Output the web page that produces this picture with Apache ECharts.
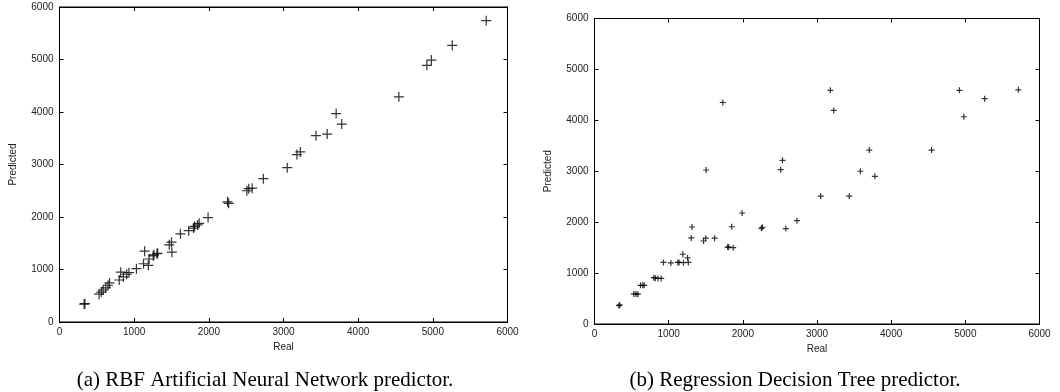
<!DOCTYPE html>
<html>
<head>
<meta charset="utf-8">
<script src="https://cdn.jsdelivr.net/npm/echarts@6/dist/echarts.min.js"></script>
<style>
  html, body { margin: 0; padding: 0; background: #fff; }
  #chart { width: 1060px; height: 392px; }
</style>
</head>
<body>
<div id="chart"></div>
<script>
// real values (shared by both plots)
const real = [330, 340, 530, 560, 585, 620, 650, 670, 800, 820, 855, 900, 930, 1030, 1125, 1140, 1190, 1200, 1255, 1265,
  1305, 1315, 1470, 1500, 1505, 1620, 1730, 1795, 1810, 1850, 1870, 1990, 2250, 2265, 2510, 2535, 2580, 2730, 3050, 3180,
  3225, 3435, 3585, 3705, 3780, 4545, 4920, 4980, 5260, 5715];
// (a) RBF neural network predictions
const predRbf = [340, 350, 530, 570, 610, 650, 700, 745, 800, 950, 860, 910, 940, 1015, 1110, 1350, 1080, 1200, 1260, 1280,
  1300, 1310, 1470, 1520, 1330, 1680, 1740, 1790, 1820, 1850, 1880, 1990, 2290, 2260, 2500, 2540, 2550, 2730, 2940, 3190,
  3240, 3550, 3580, 3970, 3770, 4290, 4890, 4990, 5270, 5740];
// (b) regression tree predictions
const predTree = [360, 375, 590, 590, 585, 760, 760, 760, 910, 900, 895, 895, 1210, 1200, 1210, 1210, 1370, 1205, 1300, 1210,
  1690, 1905, 1630, 1685, 3025, 1685, 4350, 1510, 1510, 1910, 1500, 2180, 1880, 1900, 3030, 3215, 1875, 2030, 2510, 4590,
  4195, 2510, 3000, 3415, 2900, 3415, 4590, 4070, 4425, 4600];

const ticks = [0, 1000, 2000, 3000, 4000, 5000, 6000];
const captions = ['(a) RBF Artificial Neural Network predictor.', '(b) Regression Decision Tree predictor.'];

const chart = echarts.init(document.getElementById('chart'));

const sans = 'Liberation Sans, Arial, sans-serif';
const grids = [
  { left: 59.5, top: 7, width: 448, height: 315 },
  { left: 594.5, top: 18.5, width: 445, height: 305.5 },
];

function axis(dim, gridIndex, mirror) {
  const a = {
    type: 'value',
    gridIndex: gridIndex,
    min: ticks[0],
    max: ticks[ticks.length - 1],
    interval: 1000,
    splitLine: { show: false },
    axisLine: { show: true, onZero: false, lineStyle: { color: '#000', width: 1 } },
    axisTick: { show: true, inside: true, length: 4, lineStyle: { color: '#000', width: 1 } },
    axisLabel: {
      show: !mirror,
      color: '#222',
      fontSize: 10,
      fontFamily: sans,
      margin: dim === 'x' ? 5 : 6,
      formatter: v => String(v),
    },
  };
  if (dim === 'x') {
    a.position = mirror ? 'top' : 'bottom';
    if (!mirror) {
      a.name = 'Real';
      a.nameLocation = 'middle';
      a.nameGap = 20;
      a.nameTextStyle = { color: '#222', fontSize: 10, fontFamily: sans };
    }
  } else {
    a.position = mirror ? 'right' : 'left';
    if (!mirror) {
      a.name = 'Predicted';
      a.nameLocation = 'middle';
      a.nameGap = 41;
      a.nameTextStyle = { color: '#222', fontSize: 10, fontFamily: sans };
    }
  }
  return a;
}

const crossThin = 'path://M0,4.4H10V5.6H0Z M4.4,0H5.6V10H4.4Z';
const crossBold = 'path://M0,4H10V6H0Z M4,0H6V10H4Z';

chart.setOption({
  animation: false,
  backgroundColor: '#fff',
  title: captions.map((t, i) => ({
    text: t,
    left: i === 0 ? 260 : 790,
    top: 365,
    textAlign: 'center',
    textStyle: { fontFamily: 'Liberation Serif, Times New Roman, serif', fontSize: 21, fontWeight: 'normal', color: '#000' },
  })),
  grid: grids.map(g => Object.assign({ show: true, borderColor: '#000', borderWidth: 1, backgroundColor: 'transparent' }, g)),
  xAxis: [axis('x', 0, false), axis('x', 0, true), axis('x', 1, false), axis('x', 1, true)],
  yAxis: [axis('y', 0, false), axis('y', 0, true), axis('y', 1, false), axis('y', 1, true)],
  series: [
    {
      type: 'scatter',
      xAxisIndex: 0,
      yAxisIndex: 0,
      symbol: crossThin,
      symbolSize: 10,
      itemStyle: { color: '#000' },
      data: real.map((r, i) => [r, predRbf[i]]),
    },
    {
      type: 'scatter',
      xAxisIndex: 2,
      yAxisIndex: 2,
      symbol: crossBold,
      symbolSize: 6,
      itemStyle: { color: '#000' },
      data: real.map((r, i) => [r, predTree[i]]),
    },
  ],
});
</script>
</body>
</html>
